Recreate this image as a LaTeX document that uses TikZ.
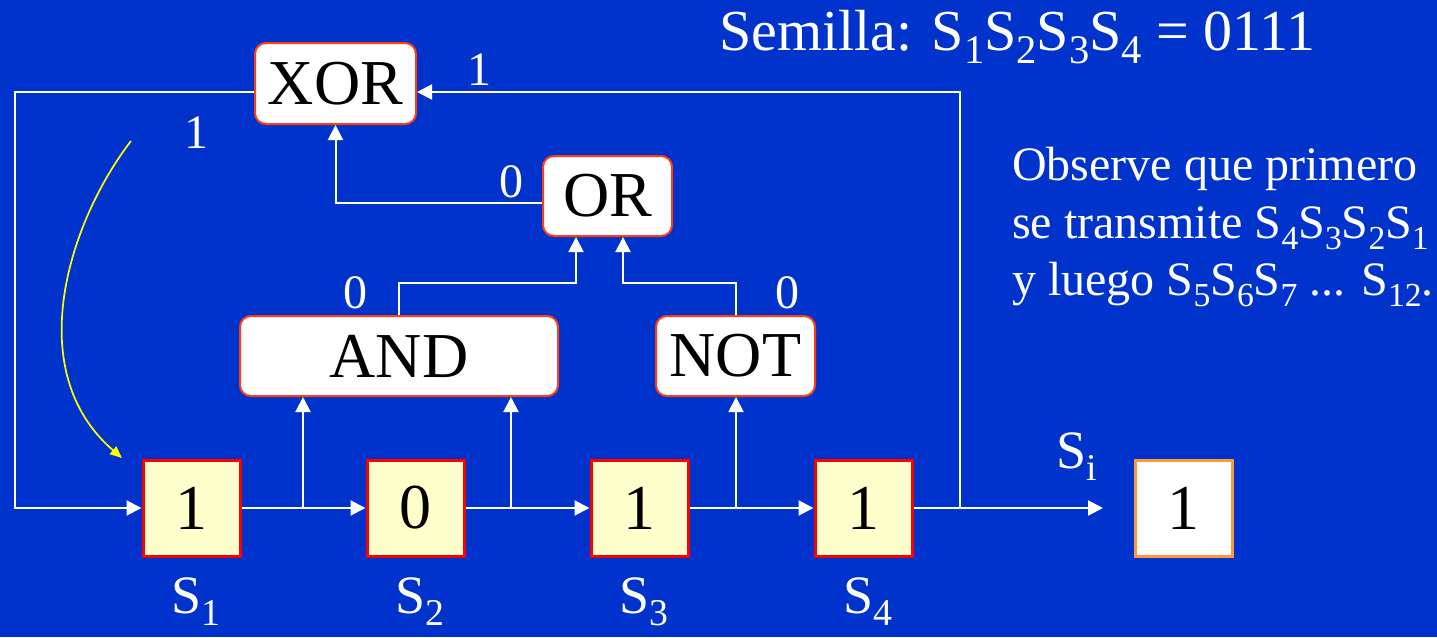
\documentclass[tikz,border=0pt]{standalone}
\usepackage{fontspec}
\setmainfont{Liberation Serif}
\usepackage{graphicx}
\usetikzlibrary{arrows.meta}
\definecolor{bgblue}{RGB}{0,51,204}
\definecolor{gateedge}{RGB}{255,60,20}
\definecolor{regfill}{RGB}{255,255,204}
\definecolor{outedge}{RGB}{255,153,51}
\definecolor{curveyellow}{RGB}{255,255,0}
% lowered, reduced index for register names
\newcommand{\sbs}[1]{\raisebox{-0.24em}{\scalebox{0.7}{#1}}}
\begin{document}
\begin{tikzpicture}[x=1pt,y=-1pt,
  wire/.style={white, line width=2pt},
  arr/.style={wire, -{Triangle[length=15pt,width=15pt]}},
  gate/.style={draw=gateedge, fill=white, line width=2pt, rounded corners=11pt,
    inner sep=0pt, minimum height=81pt, font=\fontsize{64}{70}\selectfont},
  reg/.style={draw=red, fill=regfill, line width=3pt, minimum width=97pt,
    minimum height=96pt, inner sep=0pt, font=\fontsize{64}{70}\selectfont},
  outbox/.style={reg, draw=outedge, fill=white},
  bit/.style={white, inner sep=0pt, anchor=base, font=\fontsize{48}{52}\selectfont},
  sname/.style={white, inner sep=0pt, anchor=base, font=\fontsize{54}{60}\selectfont},
  note/.style={white, inner sep=0pt, anchor=base west, font=\fontsize{48}{52}\selectfont},
]
\fill[bgblue] (0,0) rectangle (1437,637);
\useasboundingbox (0,0) rectangle (1437,637);

% logic gates
\node[gate, minimum width=161pt] (xor) at (335.5,83.5) {XOR};
\node[gate, minimum width=129pt, minimum height=80pt] (or) at (607.5,196) {OR};
\node[gate, minimum width=318pt, minimum height=80pt] (and) at (399,356) {AND};
\node[gate, minimum width=159pt, minimum height=80pt] (not) at (735.5,356) {NOT};

% shift register cells
\node[reg] (s1) at (191.5,508) {1};
\node[reg] (s2) at (415.5,508) {0};
\node[reg] (s3) at (639.5,508) {1};
\node[reg] (s4) at (863.5,508) {1};
\node[outbox] (out) at (1183.5,508) {1};

% helper points
\coordinate (lc) at (15,508);
\coordinate (tapR) at (960,508);
\coordinate (outend) at (1103,508);
\coordinate (ta) at (303,508);
\coordinate (tb) at (511,508);
\coordinate (tc) at (736,508);

% register chain
\draw[arr] (s1.east) -- (s2.west);
\draw[arr] (s2.east) -- (s3.west);
\draw[arr] (s3.east) -- (s4.west);
\draw[arr] (s4.east) -- (outend);

% feedback paths
\draw[arr] ([yshift=-8.5pt]xor.west) -| (lc) -- (s1.west);
\draw[arr] (tapR) |- ([yshift=-8.5pt]xor.east);

% gate inputs
\draw[arr] (ta) -- (ta |- and.south);
\draw[arr] (tb) -- (tb |- and.south);
\draw[arr] (tc) -- (tc |- not.south);
\draw[arr] (and.north) -- ++(0,-32) -| ([xshift=-31.5pt]or.south);
\draw[arr] (not.north) -- ++(0,-32) -| ([xshift=15.5pt]or.south);
\draw[arr] ([yshift=-7pt]or.west) -| (xor.south);

% bit values on the wires
\node[bit] (bx) at (479,85) {1};
\node[bit] (bf) at (196,148) {1};
\node[bit] (bo) at (511,197) {0};
\node[bit] (ba) at (355,308) {0};
\node[bit] (bn) at (787,308) {0};

% register names
\node[sname] (n1) at (196,613) {S\sbs{1}};
\node[sname] (n2) at (420,613) {S\sbs{2}};
\node[sname] (n3) at (644,613) {S\sbs{3}};
\node[sname] (n4) at (868,613) {S\sbs{4}};
\node[sname] (ni) at (1077,468) {S\sbs{i}};

% shift direction hint
\coordinate (ya) at (131,141);
\coordinate (yb) at (122,458);
\draw[curveyellow, line width=1.7pt, -{Triangle[length=12pt,width=10pt]}]
  (ya) .. controls (70,220) and (20,370) .. (yb);

% seed and notes
\node[note, font=\fontsize{58}{64}\selectfont] (seed) at (719,50)
  {Semilla: S\sbs{1}S\sbs{2}S\sbs{3}S\sbs{4} = 0111};
\node[note] (l1) at (1012,180) {Observe que primero};
\node[note] (l2) at (1012,238) {se transmite S\sbs{4}S\sbs{3}S\sbs{2}S\sbs{1}};
\node[note] (l3) at (1012,295) {y luego S\sbs{5}S\sbs{6}S\sbs{7} ... S\sbs{12}.};
\end{tikzpicture}
\end{document}
